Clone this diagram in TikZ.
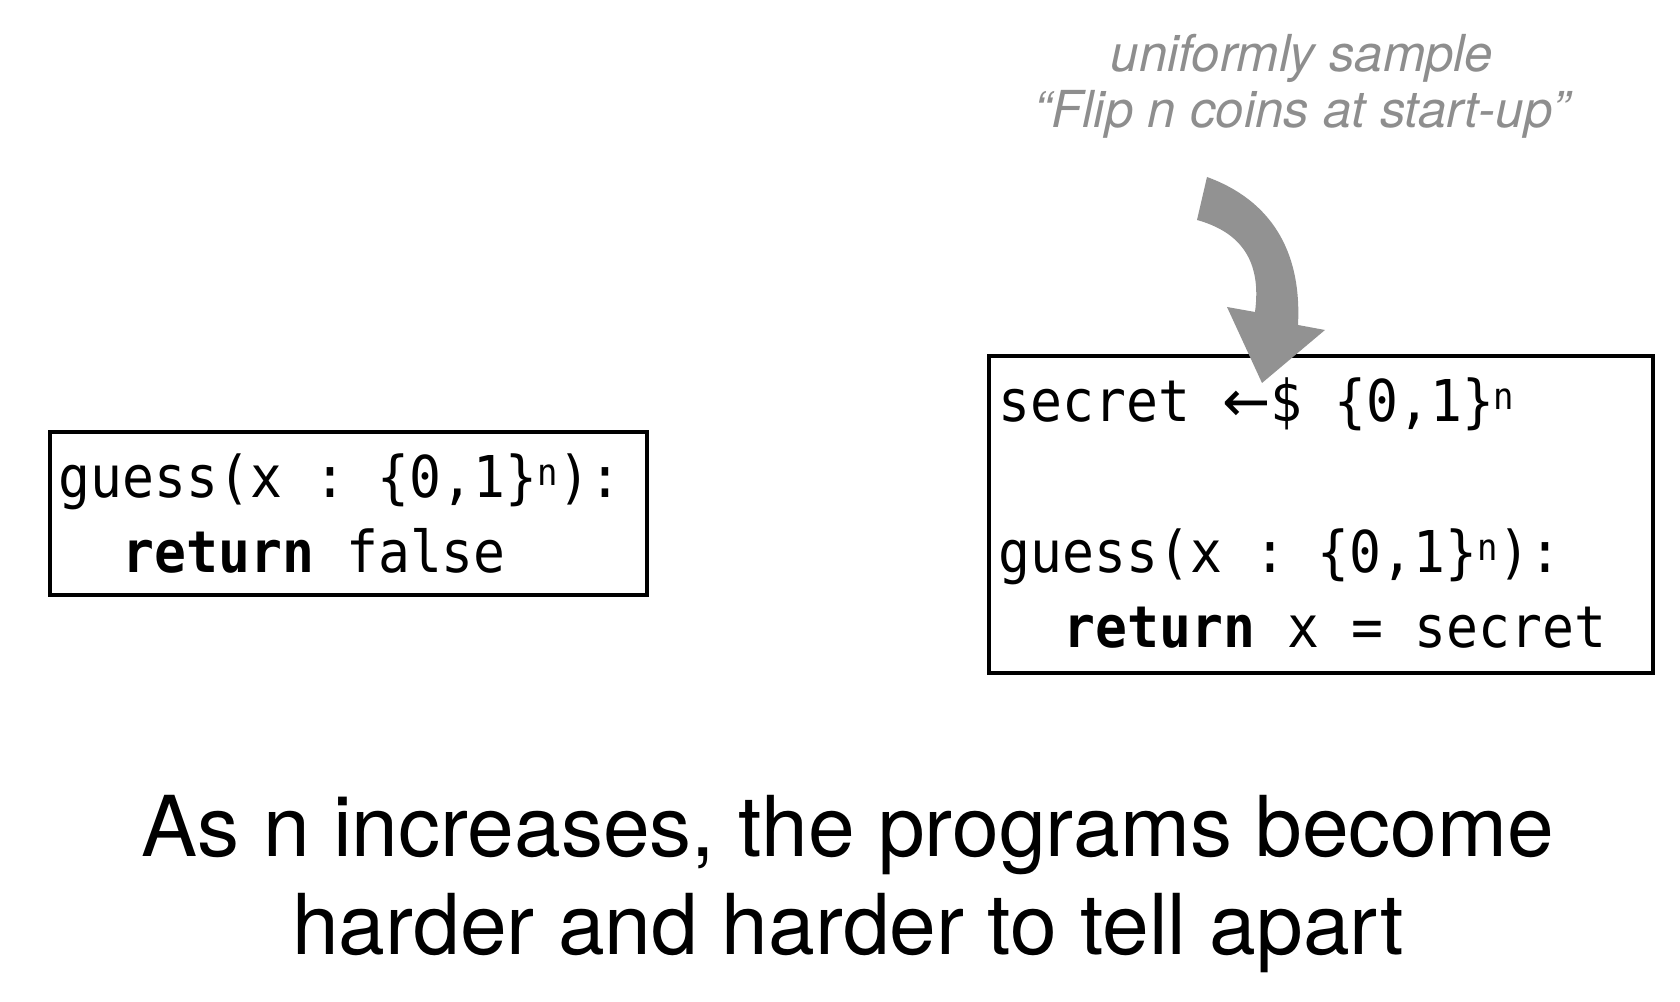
\documentclass[tikz,border=0pt]{standalone}
\usepackage{fontspec}
\setmainfont{TeX Gyre Heros}
\setmonofont[FakeStretch=0.92]{DejaVu Sans Mono}
\newfontfamily\arrowfont{DejaVu Sans}
\usepackage{tikz}
\definecolor{hintgray}{HTML}{8E8E8E}
\definecolor{arrowgray}{HTML}{929292}
\newcommand{\bitsn}{\raisebox{3.6pt}{\fontsize{10.5}{10.5}\selectfont n}}

\begin{document}
\begin{tikzpicture}[x=0.1mm,y=-0.1mm,
		prog/.style={draw,line width=1pt,inner sep=0pt},
		code/.style={anchor=base west,inner sep=0pt,font=\ttfamily\fontsize{16.4}{20}\selectfont},
		hint/.style={anchor=base,inner sep=0pt,text=hintgray,font=\itshape\fontsize{14.5}{16}\selectfont},
		caption/.style={anchor=base,inner sep=0pt,font=\fontsize{23.9}{28}\selectfont}]
		\useasboundingbox (0,0) rectangle (1680,1002);
		\node[prog,minimum width=59.7mm,minimum height=16.3mm] (falsebox) at (348.5,513.5) {};
		\node[code] (guessl) at (58,498) {guess(x : \{0,1\}\bitsn):};
		\node[code] (retl) at (122,573) {\textbf{return} false};
		\node[prog,minimum width=66.4mm,minimum height=31.7mm] (secretbox) at (1321,514.5) {};
		\node[code] (sample) at (998,422) {secret {\arrowfont ←}\$ \{0,1\}\bitsn};
		\node[code] (guessr) at (998,573) {guess(x : \{0,1\}\bitsn):};
		\node[code] (retr) at (1063,648) {\textbf{return} x = secret};
		\fill[arrowgray] (1207,177) .. controls (1270,200) and (1302,250) .. (1298,325) -- (1325,330) -- (1262,383) -- (1227,307) -- (1255,312) .. controls (1262,260) and (1240,232) .. (1197,220) -- cycle;
		\node[hint] (hintup) at (1302,72) {uniformly sample};
		\node[hint] (hintdown) at (1302,128) {“Flip n coins at start-up”};
		\node[caption] (capup) at (848,857) {As n increases, the programs become};
		\node[caption] (capdown) at (848,955) {harder and harder to tell apart};
	\end{tikzpicture}
\end{document}
